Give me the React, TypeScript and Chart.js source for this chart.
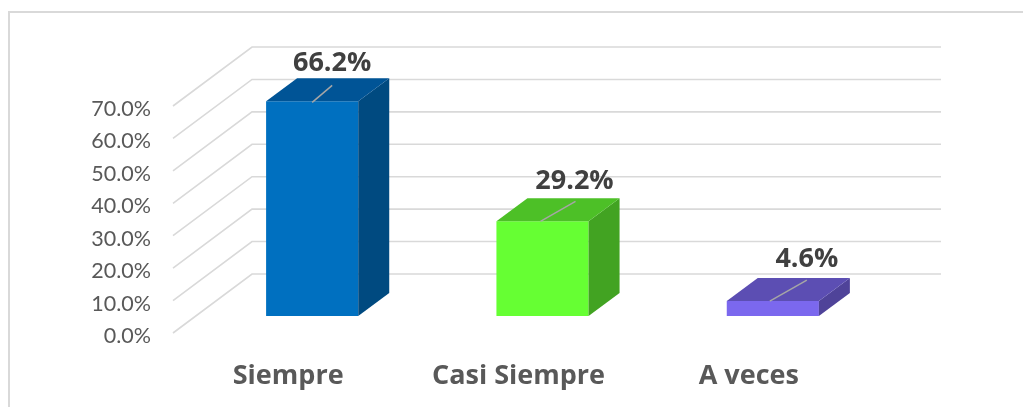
import React, { useEffect, useRef } from "react";
import { Chart, registerables } from "chart.js";

Chart.register(...registerables);

const categories = ["Siempre", "Casi Siempre", "A veces"];
const values = [66.2, 29.2, 4.6];
const frontColors = ["#0070c0", "#66ff33", "#7b68ee"];
const topColors = ["#005496", "#4dc027", "#5c4eb3"];
const sideColors = ["#004a80", "#42a322", "#4f4399"];

const BOLD_FONT = "'Open Sans', sans-serif";
const TICK_FONT = "Lato, sans-serif";
const WALL = { dx: 79, dy: -59 };
const BAR_SHIFT = { dx: 24, dy: -17 };
const BAR_DEPTH = { dx: 31, dy: -23 };
const LABEL_OFFSET = [20, 32, 34];
const LABEL_RISE = [38, 40, 42];
const LEADERS = [
  { x0: 0, y0: 1, x1: 20, y1: -16 },
  { x0: -2, y0: 0, x1: 33, y1: -20 },
  { x0: -3, y0: 0, x1: 34, y1: -21 },
];

const depthPlugin = {
  id: "depth",
  beforeDatasetsDraw(chart: any) {
    const { ctx, chartArea, scales } = chart;
    const y = scales.y;
    ctx.save();
    ctx.strokeStyle = "#d9d9d9";
    ctx.lineWidth = 1.6;
    y.ticks.forEach((t: any) => {
      const py = y.getPixelForValue(t.value);
      ctx.beginPath();
      ctx.moveTo(chartArea.left, py);
      ctx.lineTo(chartArea.left + WALL.dx, py + WALL.dy);
      ctx.lineTo(chartArea.right + WALL.dx - 2, py + WALL.dy);
      ctx.stroke();
    });
    ctx.restore();
    ctx.save();
    ctx.translate(BAR_SHIFT.dx, BAR_SHIFT.dy);
  },
  afterDatasetsDraw(chart: any) {
    const { ctx } = chart;
    const bars = chart.getDatasetMeta(0).data;
    bars.forEach((bar: any, i: number) => {
      const w = bar.width / 2;
      const l = bar.x - w;
      const r = bar.x + w;
      const t = bar.y;
      const b = bar.base;
      ctx.fillStyle = sideColors[i];
      ctx.beginPath();
      ctx.moveTo(r, t);
      ctx.lineTo(r + BAR_DEPTH.dx, t + BAR_DEPTH.dy);
      ctx.lineTo(r + BAR_DEPTH.dx, b + BAR_DEPTH.dy);
      ctx.lineTo(r, b);
      ctx.closePath();
      ctx.fill();
      ctx.fillStyle = topColors[i];
      ctx.beginPath();
      ctx.moveTo(l, t);
      ctx.lineTo(l + BAR_DEPTH.dx, t + BAR_DEPTH.dy);
      ctx.lineTo(r + BAR_DEPTH.dx, t + BAR_DEPTH.dy);
      ctx.lineTo(r, t);
      ctx.closePath();
      ctx.fill();
      const lead = LEADERS[i];
      ctx.strokeStyle = "#a6a6a6";
      ctx.lineWidth = 1.5;
      ctx.beginPath();
      ctx.moveTo(bar.x + lead.x0, t + lead.y0);
      ctx.lineTo(bar.x + lead.x1, t + lead.y1);
      ctx.stroke();
      ctx.fillStyle = "#404040";
      ctx.font = `bold 27px ${BOLD_FONT}`;
      ctx.textAlign = "center";
      ctx.textBaseline = "middle";
      ctx.fillText(`${values[i].toFixed(1)}%`, bar.x + LABEL_OFFSET[i], t - LABEL_RISE[i]);
    });
    ctx.restore();
  },
};

export default function App() {
  const ref = useRef<HTMLCanvasElement>(null);
  useEffect(() => {
    const chart = new Chart(ref.current as HTMLCanvasElement, {
      type: "bar",
      data: {
        labels: categories,
        datasets: [
          {
            data: values,
            backgroundColor: frontColors,
            barPercentage: 0.4,
            categoryPercentage: 1,
            borderWidth: 0,
          },
        ],
      },
      plugins: [depthPlugin],
      options: {
        animation: false,
        responsive: false,
        layout: { padding: { top: 106, right: 159, left: 0, bottom: 0 } },
        plugins: { legend: { display: false }, tooltip: { enabled: false } },
        scales: {
          x: {
            grid: { display: false, drawTicks: false },
            border: { display: false },
            afterFit: (s: any) => {
              s.height = 74;
            },
            ticks: {
              color: "#595959",
              padding: 27,
              maxRotation: 0,
              font: { family: BOLD_FONT, size: 27, weight: "bold" },
            },
          },
          y: {
            min: 0,
            max: 70,
            grid: { display: false, drawTicks: false },
            border: { display: false },
            afterFit: (s: any) => {
              s.width = 173;
            },
            ticks: {
              stepSize: 10,
              color: "#595959",
              padding: 22,
              labelOffset: 3,
              callback: (v: any) => `${Number(v).toFixed(1)}%`,
              font: { family: TICK_FONT, size: 21.5 },
            },
          },
        },
      },
    } as any);
    return () => chart.destroy();
  }, []);
  return (
    <div
      style={{
        position: "fixed",
        left: 0,
        top: 0,
        width: 1023,
        height: 407,
        background: "#fff",
        overflow: "hidden",
      }}
    >
      <div
        style={{
          position: "absolute",
          left: 8,
          top: 11,
          width: 1100,
          height: 500,
          border: "2px solid #d9d9d9",
          boxSizing: "border-box",
        }}
      />
      <canvas
        ref={ref}
        width={1023}
        height={407}
        style={{ position: "absolute", left: 0, top: 0, display: "block" }}
      />
    </div>
  );
}
